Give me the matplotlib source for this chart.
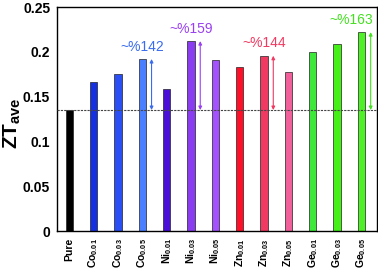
import matplotlib
matplotlib.use("Agg")
import matplotlib.pyplot as plt

plt.rcParams['font.family'] = ['Liberation Sans', 'DejaVu Sans']
plt.rcParams['mathtext.fontset'] = 'custom'
plt.rcParams['mathtext.rm'] = 'Liberation Sans:bold'
plt.rcParams['mathtext.bf'] = 'Liberation Sans:bold'
plt.rcParams['mathtext.it'] = 'Liberation Sans:bold'

categories = ['Pure', 'Co', 'Co', 'Co', 'Ni', 'Ni', 'Ni', 'Zn', 'Zn', 'Zn', 'Ge', 'Ge', 'Ge']
subscripts = ['', '0.01', '0.03', '0.05', '0.01', '0.03', '0.05', '0.01', '0.03', '0.05', '0.01', '0.03', '0.05']
values = [0.1356, 0.1667, 0.1756, 0.192, 0.159, 0.212, 0.191, 0.183, 0.1956, 0.177, 0.200, 0.209, 0.222]
colors = ['#000000', '#1530e0', '#2a50f5', '#4a80ff', '#4a10d8', '#8a3cf0', '#a452ff',
          '#ff1028', '#f03a62', '#f2609c', '#3ee83a', '#44f018', '#50f028']
baseline = 0.135
annot_idx = [3, 5, 8, 12]
annot_text = ['~%142', '~%159', '~%144', '~%163']
annot_colors = ['#3a6cf0', '#9a40f0', '#f03a62', '#44e020']

fig = plt.figure(figsize=(3.78, 2.70), dpi=100)
ax = fig.add_axes([0.151, 0.1444, 0.847, 0.8296])

x = list(range(len(values)))
ax.bar(x, values, width=0.3, color=colors, edgecolor='#222222', linewidth=0.5, zorder=2)
ax.axhline(baseline, color='#444444', linestyle=(0, (2, 1)), linewidth=0.8, zorder=3)

for i, t, c in zip(annot_idx, annot_text, annot_colors):
    xa = i + 0.38
    ax.annotate('', xy=(xa, values[i]), xytext=(xa, baseline),
                arrowprops=dict(arrowstyle='<|-|>', color=c, lw=0.8,
                                mutation_scale=5, shrinkA=0, shrinkB=0))
    ax.text(i if i != 12 else i - 0.4, values[i] + 0.006, t, color=c,
            fontsize=10, ha='center', va='bottom')

ax.set_ylim(0, 0.25)
ax.set_xlim(-0.5, 12.65)
ax.set_yticks([0, 0.05, 0.1, 0.15, 0.2, 0.25])
ax.set_yticklabels(['0', '0.05', '0.1', '0.15', '0.2', '0.25'], fontsize=10, fontweight='bold')
labels = [c if s == '' else c + '$_{' + s + '}$' for c, s in zip(categories, subscripts)]
ax.set_xticks(x)
ax.set_xticklabels(labels, rotation=90, fontsize=7.5, fontweight='bold')
ax.tick_params(axis='x', length=0, pad=5)
ax.tick_params(axis='y', length=0, pad=5)
ax.set_ylabel('ZT$_{ave}$', fontsize=15, fontweight='bold')
ax.yaxis.set_label_coords(-0.105, 0.48)
for s in ax.spines.values():
    s.set_linewidth(1.0)

fig.savefig('out.png', dpi=100)
